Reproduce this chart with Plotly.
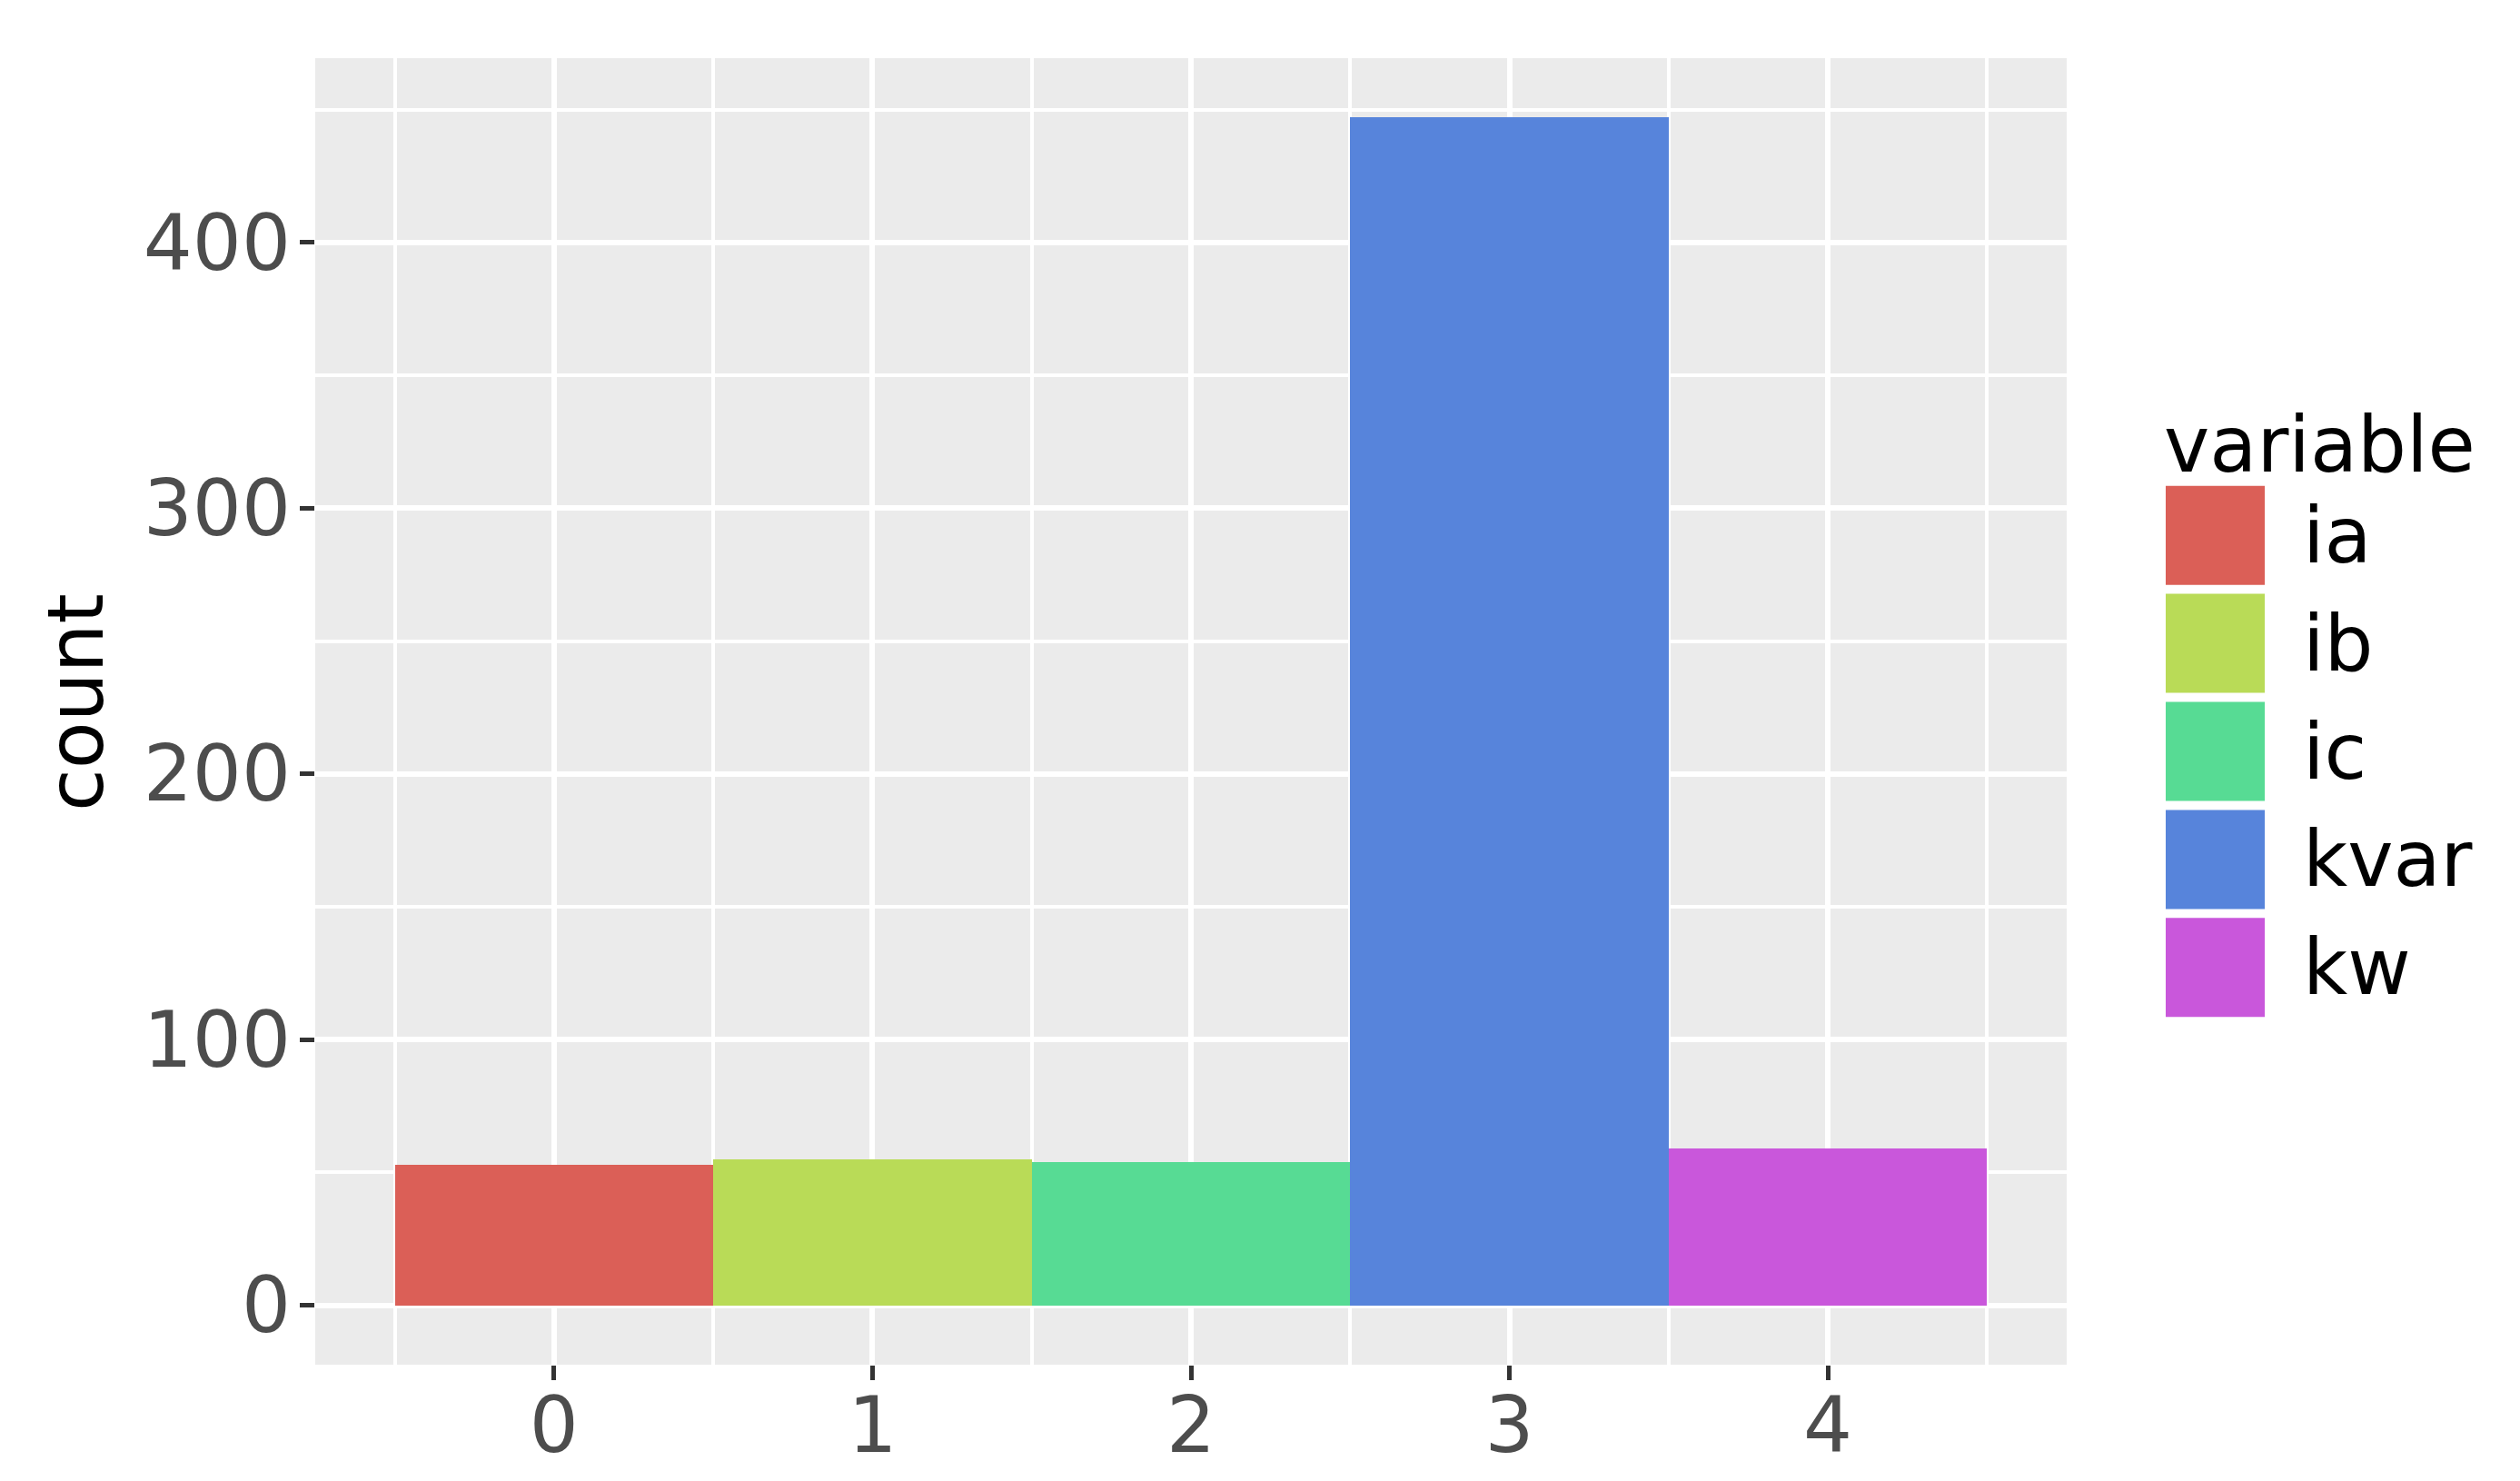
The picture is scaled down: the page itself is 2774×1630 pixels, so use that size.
import plotly.graph_objects as go

# histogram counts per variable (bins centred on 0..4)
variables = ['ia', 'ib', 'ic', 'kvar', 'kw']
bin_centers = [0, 1, 2, 3, 4]
counts = [53, 55, 54, 447, 59]
colors = ['#DB5F57', '#B9DB57', '#57DB94', '#5784DB', '#C957DB']

W, H = 2774, 1630
L, R, T, B = 347, 2275, 64, 1502   # panel box in pixels
FONT = 'DejaVu Sans'
FS = 85


def px(x):
    return (x - L) / (R - L)


def py(y):
    return (B - y) / (B - T)


fig = go.Figure()
for v, xc, n, c in zip(variables, bin_centers, counts, colors):
    fig.add_trace(go.Bar(
        x=[xc], y=[n], width=1, name=v,
        marker=dict(color=c, line=dict(width=0)),
        showlegend=False
    ))

# manual ggplot-style legend
shapes = []
annotations = []
key_top = 534.7
key_step = 118.9
key_size = 109
key_left = 2384
for i, (v, c) in enumerate(zip(variables, colors)):
    y0 = key_top + i * key_step
    shapes.append(dict(type='rect', xref='paper', yref='paper',
                       x0=px(key_left), x1=px(key_left + key_size),
                       y0=py(y0 + key_size), y1=py(y0),
                       fillcolor=c, line=dict(width=0)))
    annotations.append(dict(text=v, xref='paper', yref='paper',
                            x=px(2533), y=py(y0 + key_size / 2),
                            xanchor='left', yanchor='middle', showarrow=False,
                            font=dict(family=FONT, size=FS, color='black')))

annotations.append(dict(text='variable', xref='paper', yref='paper',
                        x=px(2380), y=py(490), xanchor='left', yanchor='middle',
                        showarrow=False,
                        font=dict(family=FONT, size=FS, color='black')))
annotations.append(dict(text='count', xref='paper', yref='paper',
                        x=px(83), y=py(773), xanchor='center', yanchor='middle',
                        textangle=-90, showarrow=False,
                        font=dict(family=FONT, size=FS, color='black')))

fig.update_layout(
    width=W, height=H,
    margin=dict(l=L, r=W - R, t=T, b=H - B, pad=0, autoexpand=False),
    paper_bgcolor='white',
    plot_bgcolor='#EBEBEB',
    barmode='overlay',
    bargap=0,
    font=dict(family=FONT, size=FS, color='#4D4D4D'),
    shapes=shapes,
    annotations=annotations,
    showlegend=False,
)

fig.update_xaxes(
    range=[-0.75, 4.75], automargin=False,
    tickvals=bin_centers, ticktext=[str(b) for b in bin_centers],
    showgrid=True, gridcolor='white', gridwidth=6,
    zeroline=False, showline=False,
    ticks='outside', ticklen=16, tickwidth=5, tickcolor='#333333',
    ticklabelstandoff=-23,
    tickfont=dict(family=FONT, size=FS, color='#4D4D4D'),
    minor=dict(tickvals=[-0.5, 0.5, 1.5, 2.5, 3.5, 4.5], showgrid=True,
               gridcolor='white', gridwidth=3.5, ticks=''),
)

fig.update_yaxes(
    range=[-22.35, 469.35], automargin=False,
    tickvals=[0, 100, 200, 300, 400],
    showgrid=True, gridcolor='white', gridwidth=6,
    zeroline=False, showline=False,
    ticks='outside', ticklen=16, tickwidth=5, tickcolor='#333333',
    ticklabelstandoff=-7,
    tickfont=dict(family=FONT, size=FS, color='#4D4D4D'),
    minor=dict(tickvals=[-50, 50, 150, 250, 350, 450], showgrid=True,
               gridcolor='white', gridwidth=3.5, ticks=''),
)

fig.write_html('out.html', config={'displayModeBar': False},
               post_script="document.body.style.margin='0';")
